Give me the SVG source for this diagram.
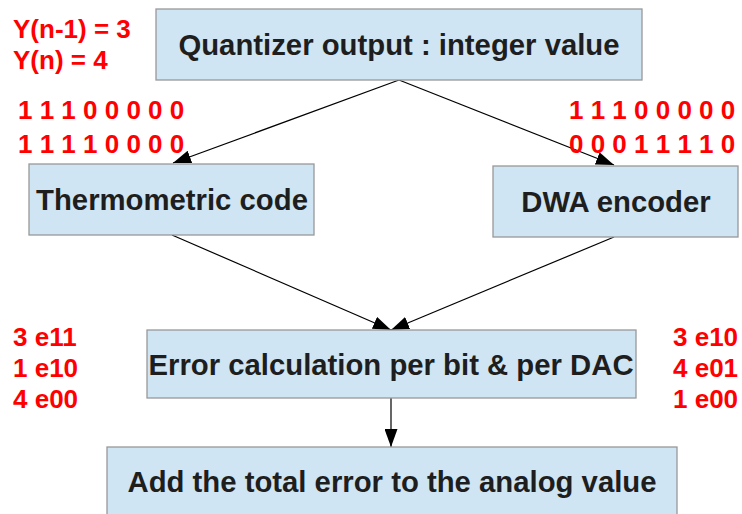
<svg xmlns="http://www.w3.org/2000/svg" width="742" height="514" viewBox="0 0 742 514">
<defs>
<marker id="ah" markerUnits="userSpaceOnUse" markerWidth="18" markerHeight="13" refX="18" refY="6.5" orient="auto">
<path d="M0,0 L18,6.5 L0,13 z" fill="#000"/>
</marker>
<style>
.box{fill:#cfe5f3;stroke:#999;stroke-width:1.3}
.lbl{font-family:"Liberation Sans",Arial,sans-serif;font-weight:bold;font-size:29.3px;fill:#1e1e1e;text-anchor:middle}
.red{font-family:"Liberation Sans",Arial,sans-serif;font-weight:bold;font-size:26px;fill:#ff0000}
.con{stroke:#000;stroke-width:1.2;fill:none;marker-end:url(#ah)}
</style>
</defs>
<rect width="742" height="514" fill="#fff"/>
<g id="connectors">
<line class="con" x1="399" y1="80" x2="173" y2="163"/>
<line class="con" x1="399" y1="80" x2="614" y2="165"/>
<line class="con" x1="172" y1="235" x2="391" y2="330"/>
<line class="con" x1="614" y1="237" x2="391" y2="330"/>
<line class="con" x1="391" y1="398" x2="391" y2="447"/>
</g>
<g id="quantizer">
<rect class="box" x="156" y="9" width="486" height="71"/>
<text class="lbl" x="399" y="55">Quantizer output : integer value</text>
</g>
<g id="thermometric">
<rect class="box" x="29" y="164" width="285" height="71"/>
<text class="lbl" x="172" y="210">Thermometric code</text>
</g>
<g id="dwa">
<rect class="box" x="493" y="166" width="245" height="71"/>
<text class="lbl" x="616" y="212">DWA encoder</text>
</g>
<g id="error">
<rect class="box" x="147" y="330" width="489" height="68"/>
<text class="lbl" x="391" y="375">Error calculation per bit &amp; per DAC</text>
</g>
<g id="add">
<rect class="box" x="107" y="447" width="570" height="80"/>
<text class="lbl" x="392" y="492">Add the total error to the analog value</text>
</g>
<g id="annotations">
<text class="red" x="13" y="38">Y(n-1) = 3</text>
<text class="red" x="13" y="69">Y(n) = 4</text>
<text class="red" x="18" y="119">1 1 1 0 0 0 0 0</text>
<text class="red" x="18" y="153">1 1 1 1 0 0 0 0</text>
<text class="red" x="569" y="119">1 1 1 0 0 0 0 0</text>
<text class="red" x="569" y="153">0 0 0 1 1 1 1 0</text>
<text class="red" x="13" y="346">3 e11</text>
<text class="red" x="13" y="377">1 e10</text>
<text class="red" x="13" y="408">4 e00</text>
<text class="red" x="673" y="346">3 e10</text>
<text class="red" x="673" y="377">4 e01</text>
<text class="red" x="673" y="408">1 e00</text>
</g>
</svg>
